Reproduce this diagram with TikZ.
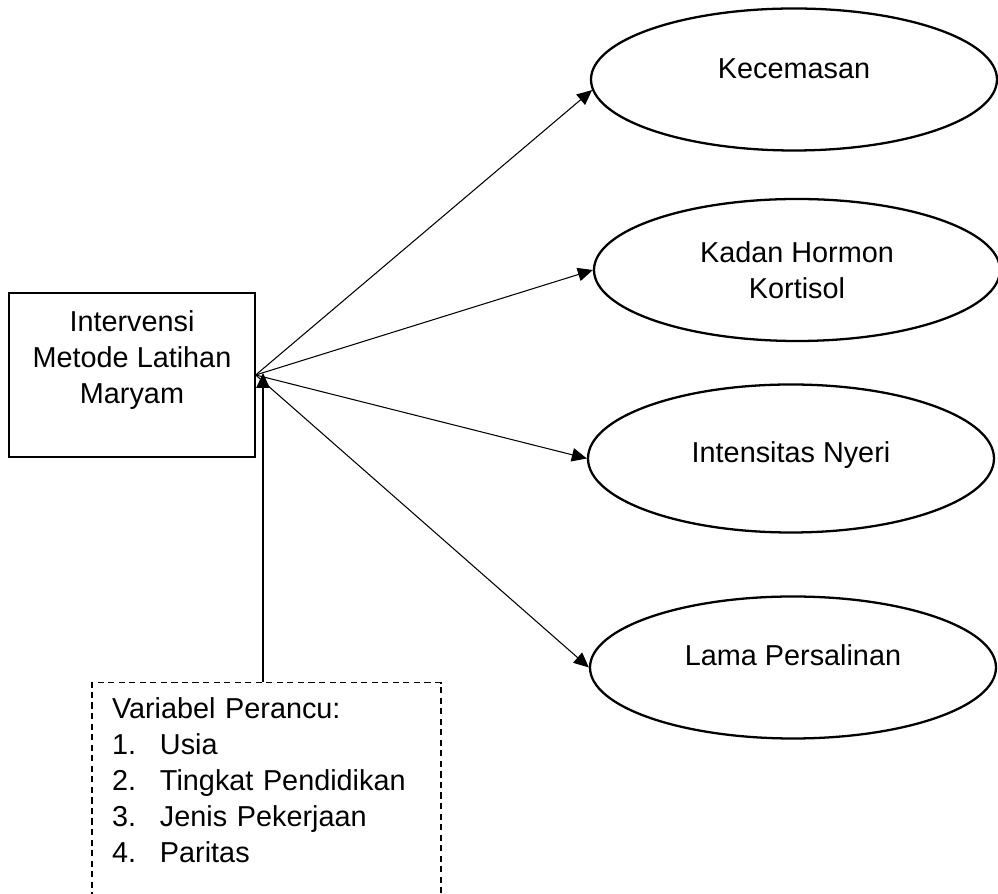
\documentclass[tikz,border=0pt]{standalone}
\usepackage{fontspec}
\setmainfont{Liberation Sans}
\usetikzlibrary{arrows.meta, shapes.geometric}

\begin{document}
\begin{tikzpicture}[
        font=\fontsize{16.4pt}{20.5pt}\selectfont,
        varbox/.style={draw, line width=0.75pt, minimum width=4.92cm, minimum height=3.28cm, align=center},
        outcome/.style={draw, ellipse, line width=1.3pt, minimum width=8.12cm, minimum height=2.84cm, align=center, inner sep=0pt},
        confbox/.style={draw, dash pattern=on 3.5pt off 2.5pt, line width=0.6pt, text width=6.18cm, align=left, anchor=north, inner xsep=0.4cm, inner ysep=0.3cm},
        arr/.style={line width=0.6pt, -{Triangle[length=0.3cm,width=0.27cm]}}
    ]
    \useasboundingbox (0,0) rectangle (19.96,-17.88);
    \node[varbox] (intv) at (2.64,-7.50) {Intervensi\\Metode Latihan\\Maryam\\~};
    \node[outcome, text depth=0.42cm] (kec) at (15.88,-1.59) {Kecemasan};
    \node[outcome] (kor) at (15.94,-5.40) {Kadan Hormon\\Kortisol};
    \node[outcome, minimum height=2.96cm, text depth=0.24cm] (nye) at (15.82,-9.17) {Intensitas Nyeri};
    \node[outcome, text depth=0.48cm] (lam) at (15.86,-13.35) {Lama Persalinan};
    \node[confbox] (conf) at (5.33,-13.64) {Variabel Perancu:\\
        \makebox[0.96cm][l]{1.}Usia\\
        \makebox[0.96cm][l]{2.}Tingkat Pendidikan\\
        \makebox[0.96cm][l]{3.}Jenis Pekerjaan\\
        \makebox[0.96cm][l]{4.}Paritas\\~};
    \coordinate (tip) at (5.26,-7.46);
    \foreach \e/\a in {kec/183,kor/west,nye/west,lam/west}{
        \draw[arr] (intv.east) -- (\e.\a);
    }
    \draw[arr] (conf.north -| tip) -- (tip);
\end{tikzpicture}
\end{document}
